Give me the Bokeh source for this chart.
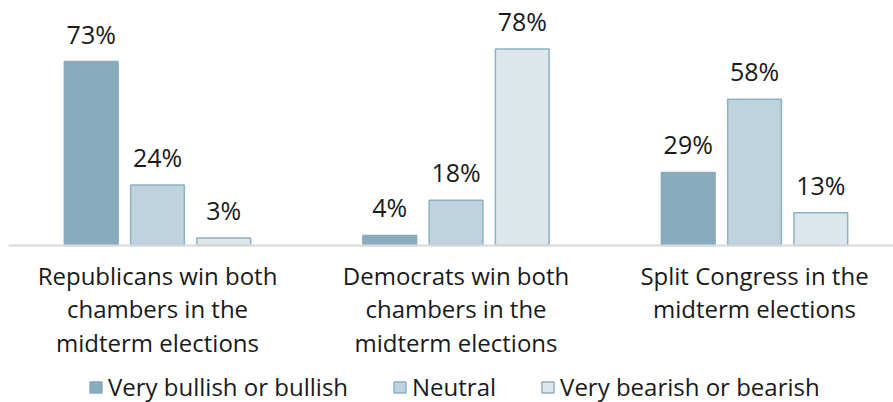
from bokeh.plotting import figure
from bokeh.models import ColumnDataSource, Span, Legend, LegendItem, Range1d
from bokeh.core.properties import value
from bokeh.embed import file_html
from bokeh.resources import INLINE

categories = ["Republicans win both\nchambers in the\nmidterm elections",
              "Democrats win both\nchambers in the\nmidterm elections",
              "Split Congress in the\nmidterm elections"]
series = ["Very bullish or bullish", "Neutral", "Very bearish or bearish"]
bullish = [73, 4, 29]
neutral = [24, 18, 58]
bearish = [3, 78, 13]

fills = ["#88abbe", "#bed3dd", "#dce6eb"]
lines = ["#88abbe", "#8fb1c3", "#8fb1c3"]
FONT = "Open Sans"

p = figure(width=893, height=402, output_backend="svg", toolbar_location=None,
           x_range=Range1d(-0.4992, 2.4656), y_range=Range1d(-62.30, 97.22),
           min_border=0, min_border_left=8, outline_line_color=None)
p.xaxis.visible = False
p.yaxis.visible = False
p.xgrid.visible = False
p.ygrid.visible = False

xs = list(range(len(categories)))
offsets = [-0.222, 0.0, 0.222]
renderers = []
for vals, off, fc, lc in zip([bullish, neutral, bearish], offsets, fills, lines):
    src = ColumnDataSource(dict(x=[x + off for x in xs], top=vals,
                                lab=[f"{v}%" for v in vals]))
    r = p.vbar(x="x", top="top", bottom=0, width=0.18, source=src,
               fill_color=fc, line_color=lc, line_width=1.5)
    renderers.append(r)
    p.text(x="x", y="top", text="lab", source=src, text_align="center",
           text_baseline="bottom", y_offset=-11, text_font=value(FONT),
           text_font_size="25px", text_color="#1a1a1a")

p.add_layout(Span(location=0, dimension="width", line_color="#d9d9d9", line_width=2))

csrc = ColumnDataSource(dict(x=xs, y=[0] * 3, t=categories))
p.text(x="x", y="y", text="t", source=csrc, text_align="center",
       text_baseline="top", y_offset=13, text_font=value(FONT),
       text_font_size="24px", text_color="#1a1a1a", text_line_height=1.02)

legend = Legend(items=[LegendItem(label=s, renderers=[r]) for s, r in zip(series, renderers)],
                orientation="horizontal", location=(80, -1),
                label_text_font=FONT, label_text_font_size="24px",
                label_text_color="#1a1a1a", glyph_width=15, glyph_height=14,
                spacing=44, padding=0, margin=0, border_line_color=None,
                background_fill_alpha=0, label_standoff=5)
p.add_layout(legend)

open("out.html", "w").write(file_html(p, INLINE))
